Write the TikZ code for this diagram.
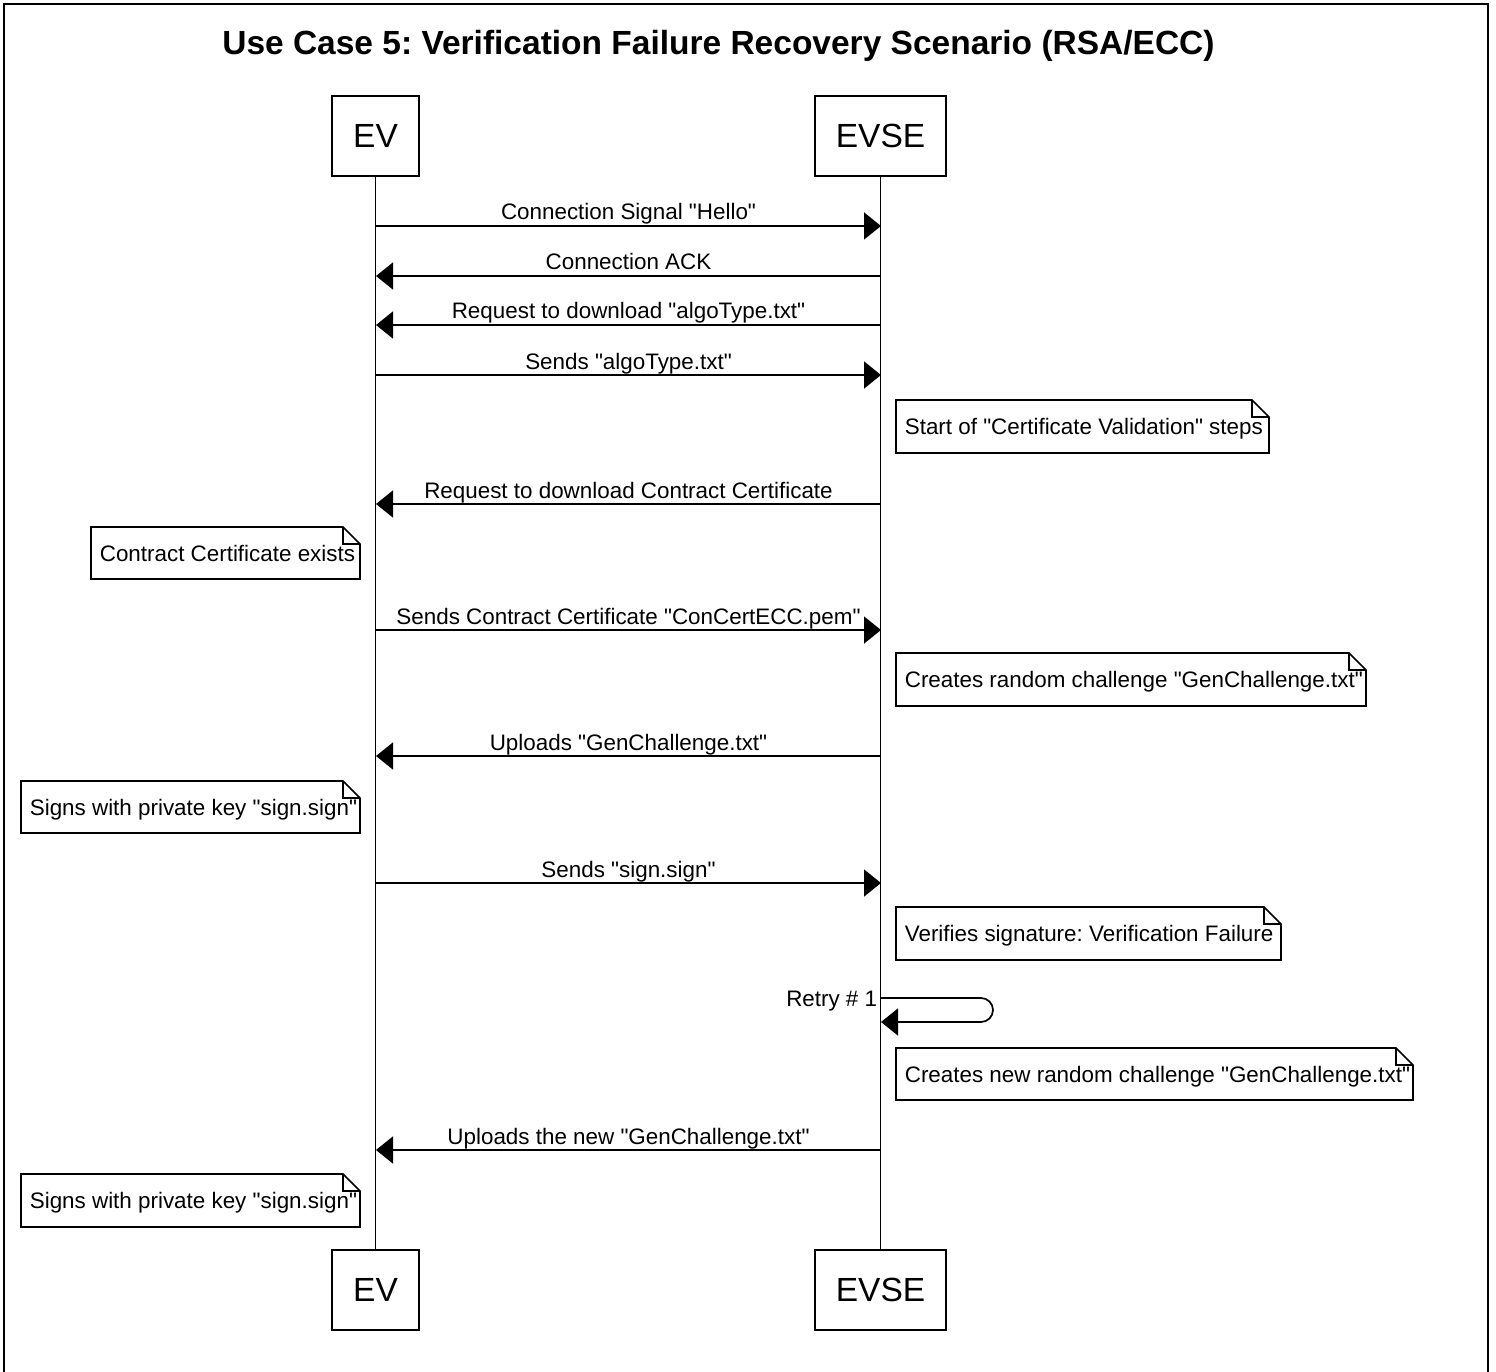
\documentclass[tikz,border=0pt]{standalone}
\usepackage{fontspec}
\setmainfont{Liberation Sans}[Ligatures=TeXOff]
\frenchspacing
\usetikzlibrary{arrows.meta}

% fold size of the note corner
\newcommand\fold{17}

% a note: name, x1, y1, x2, y2, text
\newcommand\notebox[6]{%
  \path (#2,#3) coordinate (#1nw) (#4,#5) coordinate (#1se);
  \draw[notefr] (#1nw) -- ({#4-\fold},#3) -- (#4,{#3+\fold}) -- (#1se) -- (#2,#5) -- cycle;
  \draw[notefr] ({#4-\fold},#3) |- (#4,{#3+\fold});
  \node[lbl, anchor=base west] (#1) at ({#2+8},{(#3+#5)/2+8}) {#6};}

% a message: name, y, direction (r = EV to EVSE, l = EVSE to EV), label
\newcommand\seqmsg[4]{%
  \coordinate (#1ev) at (376,#2);
  \coordinate (#1evse) at (881,#2);
  \if r#3
    \draw[msg] (#1ev) -- (#1evse);
  \else
    \draw[msg] (#1evse) -- (#1ev);
  \fi
  \node[lbl, anchor=base] (#1lbl) at (628.5,{#2-6}) {#4};}

\begin{document}
\begin{tikzpicture}[x=1pt, y=-1pt, line width=1.7pt,
  actor/.style={draw, inner sep=0pt, minimum height=80pt,
    font=\fontsize{33.5}{40}\selectfont},
  lbl/.style={inner sep=0pt, font=\fontsize{22.4}{27}\selectfont},
  msg/.style={-{Triangle[length=17pt,width=27pt]}},
  notefr/.style={line width=1.7pt, line join=miter},
  lifeline/.style={line width=1.7pt}]

\useasboundingbox (0,0) rectangle (1496,1372);

% outer frame
\draw[line width=2.5pt] (4,1380) -- (4,4) -- (1488,4) -- (1488,1380);

% title
\node[inner sep=0pt, anchor=base, font=\fontsize{33.5}{40}\selectfont\bfseries]
  (title) at (718.5,55) {Use Case 5: Verification Failure Recovery Scenario (RSA/ECC)};

% participants
\node[actor, minimum width=87pt]  (evT)   at (375.5,136)  {EV};
\node[actor, minimum width=131pt] (evseT) at (880.5,136)  {EVSE};
\node[actor, minimum width=87pt]  (evB)   at (375.5,1290) {EV};
\node[actor, minimum width=131pt] (evseB) at (880.5,1290) {EVSE};

% lifelines
\draw[lifeline] (evT.south) -- (evB.north);
\draw[lifeline] (evseT.south) -- (evseB.north);

% messages
\seqmsg{m1}{226}{r}{Connection Signal "Hello"}
\seqmsg{m2}{276}{l}{Connection ACK}
\seqmsg{m3}{325}{l}{Request to download "algoType.txt"}
\seqmsg{m4}{375}{r}{Sends "algoType.txt"}
\notebox{n1}{896}{400}{1269}{453}{Start of "Certificate Validation" steps}
\seqmsg{m5}{504}{l}{Request to download Contract Certificate}
\notebox{n2}{91}{527}{360}{579}{Contract Certificate exists}
\seqmsg{m6}{630}{r}{Sends Contract Certificate "ConCertECC.pem"}
\notebox{n3}{896}{653}{1366}{706}{Creates random challenge "GenChallenge.txt"}
\seqmsg{m7}{756}{l}{Uploads "GenChallenge.txt"}
\notebox{n4}{21}{781}{360}{833}{Signs with private key "sign.sign"}
\seqmsg{m8}{883}{r}{Sends "sign.sign"}
\notebox{n5}{896}{907}{1281}{960}{Verifies signature: Verification Failure}

% self message on the EVSE lifeline
\coordinate (r1a) at (881,998);
\coordinate (r1b) at (881,1022);
\draw[msg, rounded corners=12pt] (r1a) -- (993,998) -- (993,1022) -- (r1b);
\node[lbl, anchor=base east] (r1lbl) at (878,1006) {Retry \# 1};

\notebox{n6}{896}{1048}{1413}{1100}{Creates new random challenge "GenChallenge.txt"}
\seqmsg{m9}{1150}{l}{Uploads the new "GenChallenge.txt"}
\notebox{n7}{21}{1174}{360}{1227}{Signs with private key "sign.sign"}

\end{tikzpicture}
\end{document}
